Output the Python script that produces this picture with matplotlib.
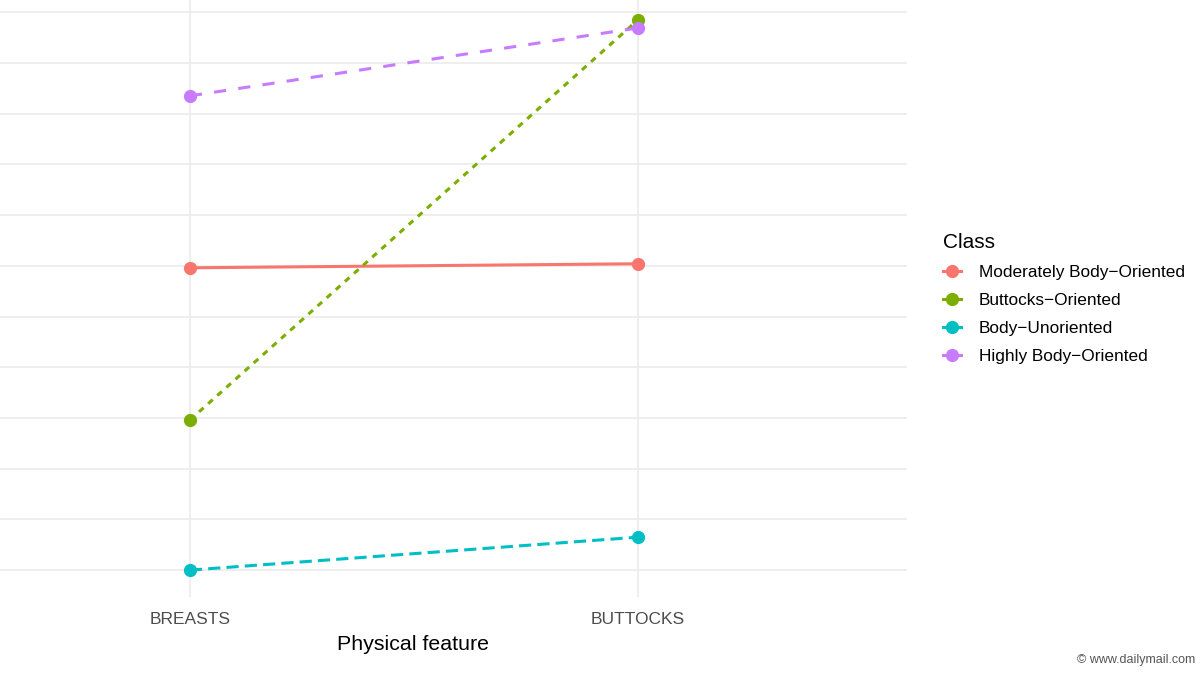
import matplotlib
matplotlib.use("Agg")
import matplotlib.pyplot as plt

features = ["BREASTS", "BUTTOCKS"]
classes = ["Moderately Body\u2212Oriented", "Buttocks\u2212Oriented",
           "Body\u2212Unoriented", "Highly Body\u2212Oriented"]
moderately = [5.96, 6.04]
buttocks = [2.96, 10.85]
unoriented = [0.0, 0.65]
highly = [9.35, 10.69]

series = [moderately, buttocks, unoriented, highly]
colors = ["#F8766D", "#7CAE00", "#00BFC4", "#C77CFF"]
# ggplot linetypes: solid, 22, 42, 44
dashes = [None, (2, 2), (4, 2), (4, 4)]

plt.rcParams["font.family"] = ["Liberation Sans", "DejaVu Sans"]

fig = plt.figure(figsize=(12, 6.75), dpi=100)
# panel runs off the left edge of the picture, like the cropped original
ax = fig.add_axes([-79 / 1200, 78 / 675, 986 / 1200, 597 / 675])

x = list(range(1, len(features) + 1))
for vals, col, d, name in zip(series, colors, dashes, classes):
    ln, = ax.plot(x, vals, color=col, lw=2.2, marker="o", markersize=8.5,
                  label=name, solid_capstyle="butt", dash_capstyle="butt")
    if d is not None:
        ln.set_dashes(d)

ax.set_xlim(0.4, 2.6)
ax.set_ylim(-0.53, 11.24)
ax.set_xticks(x)
ax.set_xticklabels(features, fontsize=12.5, color="#4d4d4d")
ax.set_yticks(range(0, 12))
ax.set_yticklabels([])
ax.tick_params(length=0, pad=11)
ax.grid(True, color="#ebebeb", lw=1.2)
ax.set_axisbelow(True)
for s in ax.spines.values():
    s.set_visible(False)
ax.set_xlabel("Physical feature", fontsize=15.4, color="black")
ax.xaxis.set_label_coords((413 + 79) / 986, -0.063)

# legend keys: short segment with a dot, like ggplot
keys = [plt.Line2D([0], [0], color=c, lw=2.2, marker="o", markersize=8.5) for c in colors]
leg = fig.legend(keys, classes, title="Class", loc="upper left",
                 bbox_to_anchor=(927 / 1200, 1 - 218 / 675), frameon=False,
                 fontsize=12.4, title_fontsize=15, handlelength=1.1,
                 handletextpad=1.0, labelspacing=0.74, alignment="left")

fig.text(1195 / 1200, 1 - 660 / 675, "\u00a9 www.dailymail.com", fontsize=9,
         color="#555555", ha="right", va="center")

fig.savefig("out.png", dpi=100)
